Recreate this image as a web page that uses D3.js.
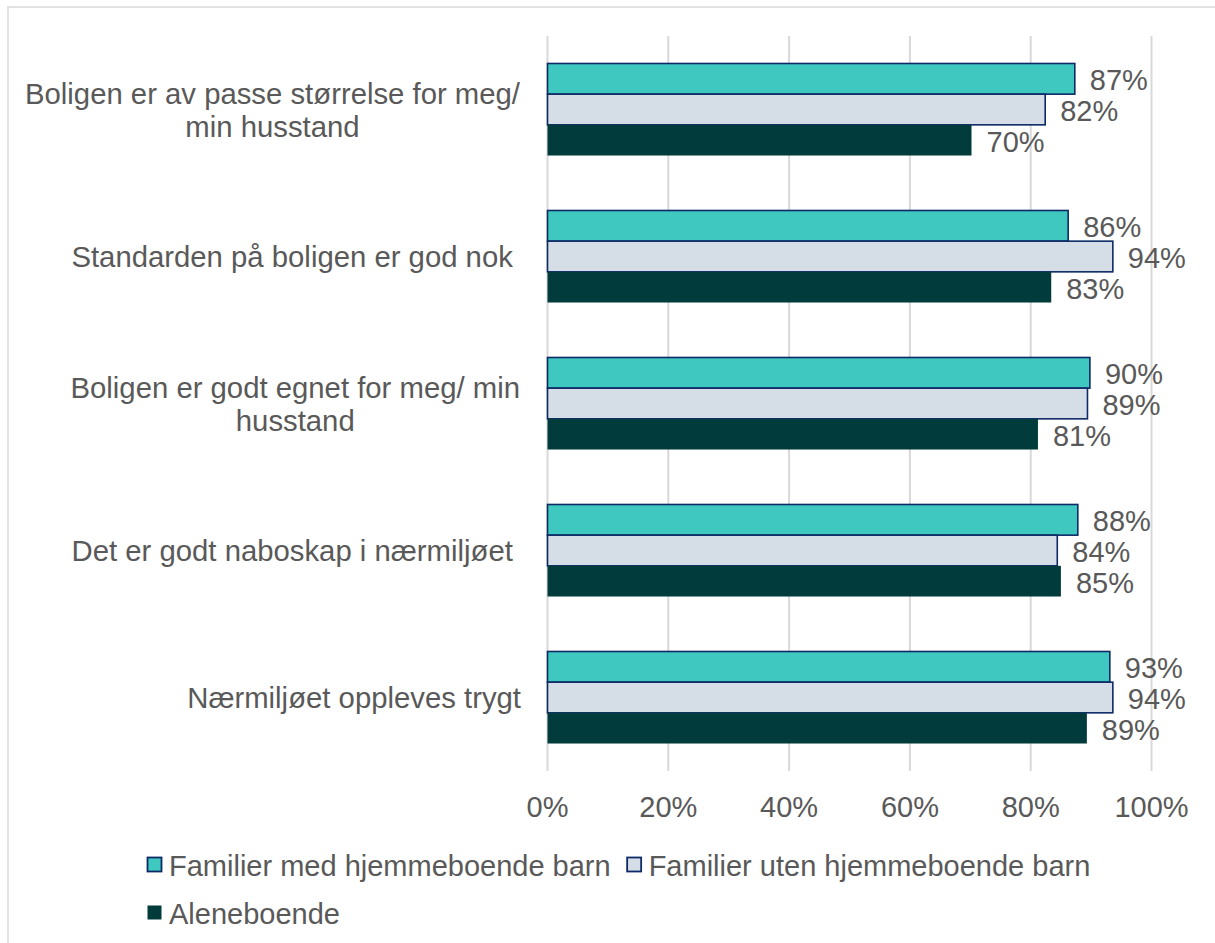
<!DOCTYPE html>
<html>
<head>
<meta charset="utf-8">
<script src="https://cdn.jsdelivr.net/npm/d3@7"></script>
<style>
  body { margin: 0; background: #fff; }
  text { font-family: "Liberation Sans", Arial, sans-serif; fill: #595959; }
</style>
</head>
<body>
<div id="chart"></div>
<script>
// kategorier (linjer slik de brytes i originalen)
var categories = [
    ["Boligen er av passe størrelse for meg/", "min husstand"],
    ["Standarden på boligen er god nok "],
    ["Boligen er godt egnet for meg/ min", "husstand"],
    ["Det er godt naboskap i nærmiljøet "],
    ["Nærmiljøet oppleves trygt"]
];
var seriesNames = ["Familier med hjemmeboende barn", "Familier uten hjemmeboende barn", "Aleneboende"];
var medBarn   = [87.3, 86.2, 89.8, 87.8, 93.1];
var utenBarn  = [82.4, 93.6, 89.4, 84.4, 93.6];
var alene     = [70.2, 83.4, 81.2, 85.0, 89.3];
var xTicks    = [0, 20, 40, 60, 80, 100];

var W = 1215, H = 943;
var colors = {
    fill: ["#3EC8BF", "#D5DDE6", "#023B3C"],
    stroke: ["#0D2A66", "#0D2A66", "none"],
    grid: "#D9D9D9",
    border: "#D9D9D9"
}
var fontSize = 29;
var plot = {left: 547.5, right: 1151.5, top: 36, bottom: 771};

var svg = d3.select('#chart').append('svg')
    .attr('width', W)
    .attr('height', H);

// ramme
svg.append('rect')
    .attr('x', 8).attr('y', 7)
    .attr('width', W + 10).attr('height', H + 10)
    .attr('fill', 'none')
    .attr('stroke', colors.border)
    .attr('stroke-width', 1.5);

var x = d3.scaleLinear().domain([0, 100]).range([plot.left, plot.right]);
var y = d3.scaleBand()
    .domain(d3.range(categories.length))
    .range([plot.top, plot.bottom])
    .paddingInner(0.374)
    .paddingOuter(0.187);
var ys = d3.scaleBand()
    .domain(d3.range(seriesNames.length))
    .range([0, y.bandwidth()]);

// rutenett
svg.append('g').selectAll('line')
    .data(xTicks)
    .join('line')
    .attr('x1', d => x(d)).attr('x2', d => x(d))
    .attr('y1', plot.top).attr('y2', plot.bottom)
    .attr('stroke', colors.grid)
    .attr('stroke-width', 2);

// x-akse tekst
svg.append('g').selectAll('text')
    .data(xTicks)
    .join('text')
    .attr('x', d => x(d))
    .attr('y', 817)
    .attr('text-anchor', 'middle')
    .style('font-size', fontSize + 'px')
    .text(d => d + '%');

// søyler
var values = [medBarn, utenBarn, alene];
var rows = [];
categories.forEach(function (c, i) {
    values.forEach(function (v, s) {
        rows.push({cat: i, s: s, v: v[i]});
    });
});

var g = svg.append('g');
g.selectAll('rect')
    .data(rows)
    .join('rect')
    .attr('x', x(0))
    .attr('y', d => y(d.cat) + ys(d.s))
    .attr('width', d => x(d.v) - x(0))
    .attr('height', ys.bandwidth())
    .attr('fill', d => colors.fill[d.s])
    .attr('stroke', d => colors.stroke[d.s])
    .attr('stroke-width', 1.6);

g.selectAll('text')
    .data(rows)
    .join('text')
    .attr('x', d => x(d.v) + 15)
    .attr('y', d => y(d.cat) + ys(d.s) + ys.bandwidth() / 2 + 11.5)
    .style('font-size', fontSize + 'px')
    .text(d => Math.round(d.v) + '%');

// kategoritekst, sentrert i en blokk som slutter ved 520
var labelRight = 520, lineH = 33;
categories.forEach(function (lines, i) {
    var t = svg.append('text')
        .attr('xml:space', 'preserve')
        .style('white-space', 'pre')
        .style('font-size', '29.3px');
    var cy = y(i) + y.bandwidth() / 2;
    var y0 = cy - (lines.length - 1) * lineH / 2 + 10.5;
    var spans = lines.map(function (l, k) {
        return t.append('tspan').attr('y', y0 + k * lineH).text(l);
    });
    var widths = spans.map(s => s.node().getComputedTextLength());
    var maxW = d3.max(widths);
    spans.forEach(function (s, k) {
        if (lines.length === 1) {
            s.attr('x', labelRight + 1 - widths[k]);
        } else {
            s.attr('x', labelRight - maxW / 2 - widths[k] / 2);
        }
    });
});

// forklaring
var legendPos = [{x: 147, y: 865}, null, {x: 147, y: 913}];
var lx = 147;
seriesNames.forEach(function (name, s) {
    var px = legendPos[s] ? legendPos[s].x : lx;
    var py = legendPos[s] ? legendPos[s].y : 865;
    svg.append('rect')
        .attr('x', px + 0.5).attr('y', py - 7.5)
        .attr('width', 14).attr('height', 14)
        .attr('fill', colors.fill[s])
        .attr('stroke', colors.stroke[s])
        .attr('stroke-width', 1.8);
    var t = svg.append('text')
        .attr('x', px + 22)
        .attr('y', py + 10.5)
        .style('font-size', fontSize + 'px')
        .text(name);
    lx = px + 22 + t.node().getComputedTextLength() + 16;
});
</script>
</body>
</html>
